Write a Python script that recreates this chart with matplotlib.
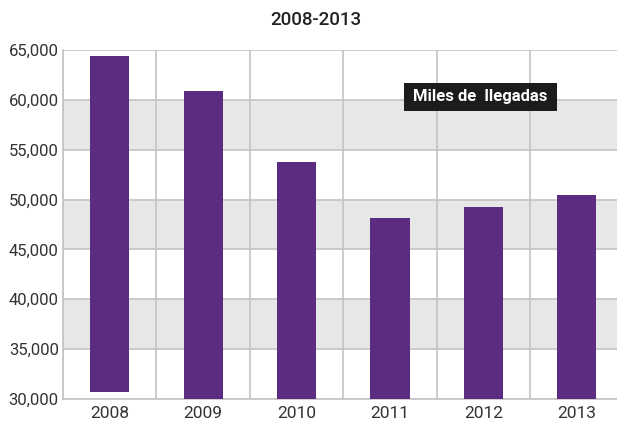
import matplotlib
matplotlib.use("Agg")
import matplotlib.pyplot as plt
from matplotlib.patches import Rectangle
import numpy as np

years = ["2008", "2009", "2010", "2011", "2012", "2013"]
tops = [64400, 60900, 53800, 48150, 49250, 50450]
bottoms = [30700, 30000, 30000, 30000, 30000, 30000]
yticks = [30000, 35000, 40000, 45000, 50000, 55000, 60000, 65000]
bands = [(35000, 40000), (45000, 50000), (55000, 60000)]

plt.rcParams['font.family'] = ['Roboto', 'DejaVu Sans']
fig = plt.figure(figsize=(6.17, 4.28), dpi=100)
ax = fig.add_axes([63/617, 29/428, 554/617, 349/428])

x = np.arange(len(years))
for lo, hi in bands:
    ax.axhspan(lo, hi, color="#e6e7e9", zorder=0, lw=0)
for yv in yticks:
    ax.axhline(yv, color="#c4c4c4", lw=1.2, zorder=1)
for xv in np.arange(-0.5, len(years), 1.0):
    ax.axvline(xv, color="#c4c4c4", lw=1.2, zorder=1)

heights = [t - b for t, b in zip(tops, bottoms)]
ax.bar(x, heights, bottom=bottoms, width=0.42, color="#5b2c82", zorder=3)

ax.set_xlim(-0.5, 5.43)
ax.set_ylim(30000, 65000)
ax.set_yticks(yticks)
ax.set_yticklabels([f"{v:,}" for v in yticks])
ax.set_xticks(x)
ax.set_xticklabels(years)
ax.tick_params(length=0, labelsize=12, colors="#333333")
ax.tick_params(axis="x", labelsize=12.5)
ax.tick_params(axis="y", pad=3)
ax.tick_params(axis="x", pad=5)
for s in ["top", "right"]:
    ax.spines[s].set_visible(False)
for s in ["left", "bottom"]:
    ax.spines[s].set_color("#c4c4c4")
    ax.spines[s].set_linewidth(1.2)

fig.text(316/617, 1 - 20/428, "2008-2013", ha="center", va="center",
         fontsize=13.5, color="#222222", fontweight="medium")

fig.patches.append(Rectangle((404/617, 317/428), 153/617, 28/428,
                             transform=fig.transFigure, fc="#1e1b1c",
                             ec="none", zorder=5))
fig.text(480/617, 331/428, "Miles de  llegadas", ha="center", va="center",
         fontsize=12, fontweight="bold", color="white", zorder=6)

fig.savefig("out.png", dpi=100)
